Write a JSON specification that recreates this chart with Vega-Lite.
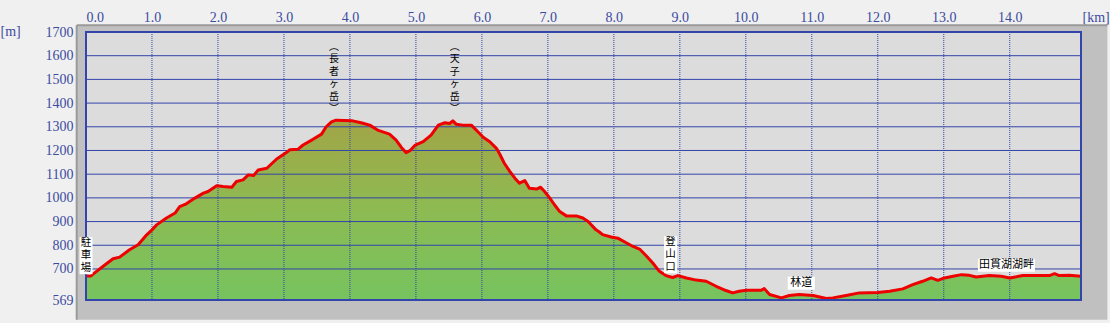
{
  "$schema": "https://vega.github.io/schema/vega-lite/v6.json",
  "width": 995,
  "height": 268,
  "autosize": {"type": "none"},
  "padding": {"left": 86, "top": 32, "right": 29, "bottom": 23},
  "background": "#f0f0f0",
  "resolve": {"axis": {"x": "independent", "y": "independent"}},
  "config": {
    "view": {"stroke": null},
    "axis": {
      "domain": false, "ticks": false, "grid": false, "labelOverlap": false,
      "labelFont": "Liberation Serif", "labelFontSize": 14, "labelColor": "#3b4b9f",
      "titleFont": "Liberation Serif", "titleFontSize": 14, "titleFontWeight": "normal", "titleColor": "#3b4b9f"
    }
  },
  "datasets": {
    "one": [{}],
    "profile": [
      {"km": 0.00, "m": 670}, {"km": 0.07, "m": 670}, {"km": 0.16, "m": 690}, {"km": 0.29, "m": 718},
      {"km": 0.41, "m": 743}, {"km": 0.51, "m": 750}, {"km": 0.66, "m": 781}, {"km": 0.79, "m": 802},
      {"km": 0.92, "m": 844}, {"km": 1.00, "m": 865}, {"km": 1.07, "m": 886}, {"km": 1.22, "m": 915},
      {"km": 1.35, "m": 936}, {"km": 1.42, "m": 963}, {"km": 1.52, "m": 975}, {"km": 1.65, "m": 999},
      {"km": 1.78, "m": 1020}, {"km": 1.85, "m": 1027}, {"km": 1.98, "m": 1051}, {"km": 2.08, "m": 1048},
      {"km": 2.21, "m": 1045}, {"km": 2.28, "m": 1069}, {"km": 2.38, "m": 1076}, {"km": 2.46, "m": 1097},
      {"km": 2.54, "m": 1094}, {"km": 2.61, "m": 1118}, {"km": 2.74, "m": 1125}, {"km": 2.89, "m": 1164},
      {"km": 3.02, "m": 1188}, {"km": 3.09, "m": 1203}, {"km": 3.21, "m": 1205}, {"km": 3.29, "m": 1223},
      {"km": 3.44, "m": 1247}, {"km": 3.57, "m": 1269}, {"km": 3.64, "m": 1300}, {"km": 3.72, "m": 1321},
      {"km": 3.79, "m": 1328}, {"km": 4.04, "m": 1325}, {"km": 4.17, "m": 1317}, {"km": 4.30, "m": 1307},
      {"km": 4.42, "m": 1286}, {"km": 4.60, "m": 1269}, {"km": 4.70, "m": 1244}, {"km": 4.78, "m": 1213},
      {"km": 4.85, "m": 1191}, {"km": 4.91, "m": 1199}, {"km": 4.99, "m": 1223}, {"km": 5.11, "m": 1237},
      {"km": 5.23, "m": 1265}, {"km": 5.34, "m": 1307}, {"km": 5.44, "m": 1317}, {"km": 5.51, "m": 1314},
      {"km": 5.56, "m": 1325}, {"km": 5.61, "m": 1311}, {"km": 5.71, "m": 1307}, {"km": 5.84, "m": 1307},
      {"km": 5.94, "m": 1279}, {"km": 6.02, "m": 1256}, {"km": 6.12, "m": 1237}, {"km": 6.22, "m": 1209},
      {"km": 6.27, "m": 1185}, {"km": 6.34, "m": 1146}, {"km": 6.42, "m": 1113}, {"km": 6.50, "m": 1083},
      {"km": 6.57, "m": 1062}, {"km": 6.65, "m": 1073}, {"km": 6.72, "m": 1041}, {"km": 6.83, "m": 1037},
      {"km": 6.89, "m": 1045}, {"km": 6.95, "m": 1027}, {"km": 7.03, "m": 999}, {"km": 7.10, "m": 971},
      {"km": 7.18, "m": 942}, {"km": 7.28, "m": 924}, {"km": 7.43, "m": 924}, {"km": 7.53, "m": 915},
      {"km": 7.61, "m": 900}, {"km": 7.73, "m": 865}, {"km": 7.78, "m": 856}, {"km": 7.83, "m": 845},
      {"km": 7.96, "m": 835}, {"km": 8.06, "m": 830}, {"km": 8.16, "m": 815}, {"km": 8.29, "m": 795},
      {"km": 8.39, "m": 784}, {"km": 8.49, "m": 756}, {"km": 8.59, "m": 725}, {"km": 8.69, "m": 690},
      {"km": 8.79, "m": 672}, {"km": 8.89, "m": 664}, {"km": 8.97, "m": 672}, {"km": 9.10, "m": 662},
      {"km": 9.25, "m": 653}, {"km": 9.40, "m": 648}, {"km": 9.55, "m": 627}, {"km": 9.70, "m": 609},
      {"km": 9.80, "m": 599}, {"km": 9.90, "m": 606}, {"km": 10.01, "m": 610}, {"km": 10.23, "m": 610},
      {"km": 10.28, "m": 617}, {"km": 10.36, "m": 592}, {"km": 10.54, "m": 578}, {"km": 10.66, "m": 588},
      {"km": 10.81, "m": 592}, {"km": 11.02, "m": 588}, {"km": 11.22, "m": 575}, {"km": 11.32, "m": 578},
      {"km": 11.52, "m": 588}, {"km": 11.72, "m": 599}, {"km": 12.00, "m": 601}, {"km": 12.18, "m": 606},
      {"km": 12.38, "m": 616}, {"km": 12.53, "m": 634}, {"km": 12.68, "m": 648}, {"km": 12.81, "m": 662},
      {"km": 12.91, "m": 652}, {"km": 13.01, "m": 662}, {"km": 13.14, "m": 669}, {"km": 13.27, "m": 676},
      {"km": 13.39, "m": 673}, {"km": 13.49, "m": 666}, {"km": 13.69, "m": 672}, {"km": 13.87, "m": 669},
      {"km": 14.00, "m": 662}, {"km": 14.20, "m": 672}, {"km": 14.40, "m": 672}, {"km": 14.60, "m": 672},
      {"km": 14.68, "m": 680}, {"km": 14.75, "m": 672}, {"km": 14.90, "m": 673}, {"km": 15.08, "m": 669}
    ],
    "xgrid": [{"km": 1}, {"km": 2}, {"km": 3}, {"km": 4}, {"km": 5}, {"km": 6}, {"km": 7}, {"km": 8}, {"km": 9}, {"km": 10}, {"km": 11}, {"km": 12}, {"km": 13}, {"km": 14}],
    "ygrid": [{"m": 700}, {"m": 800}, {"m": 900}, {"m": 1000}, {"m": 1100}, {"m": 1200}, {"m": 1300}, {"m": 1400}, {"m": 1500}, {"m": 1600}],
    "labels": [
      {"km": 0.0, "m": 832, "kind": "v", "label": "駐\n車\n場"},
      {"km": 8.86, "m": 836, "kind": "v", "label": "登\n山\n口"},
      {"km": 3.76, "m": 1658, "kind": "p", "label": "︵\n長\n者\nヶ\n岳\n︶"},
      {"km": 5.59, "m": 1658, "kind": "p", "label": "︵\n天\n子\nヶ\n岳\n︶"},
      {"km": 10.84, "m": 640, "kind": "h2", "label": "林道"},
      {"km": 13.95, "m": 716, "kind": "h5", "label": "田貫湖湖畔"}
    ]
  },
  "layer": [
    {
      "data": {"name": "one"},
      "mark": {"type": "rect", "fill": "#c0c0c0"},
      "encoding": {
        "x": {"datum": -0.141, "type": "quantitative", "axis": null, "scale": {"domain": [0, 15.08], "nice": false, "zero": false}},
        "x2": {"datum": 15.48},
        "y": {"datum": 1728, "type": "quantitative", "axis": null, "scale": {"domain": [569, 1700], "nice": false, "zero": false}},
        "y2": {"datum": 486}
      }
    },
    {
      "data": {"name": "one"},
      "mark": {"type": "rule", "color": "#9a9a9a", "strokeWidth": 2},
      "encoding": {
        "x": {"datum": -0.141, "type": "quantitative", "axis": null, "scale": {"domain": [0, 15.08], "nice": false, "zero": false}},
        "x2": {"datum": 15.48},
        "y": {"datum": 1728, "type": "quantitative", "axis": null, "scale": {"domain": [569, 1700], "nice": false, "zero": false}}
      }
    },
    {
      "data": {"name": "one"},
      "mark": {"type": "rule", "color": "#9a9a9a", "strokeWidth": 2},
      "encoding": {
        "x": {"datum": -0.141, "type": "quantitative", "axis": null, "scale": {"domain": [0, 15.08], "nice": false, "zero": false}},
        "y": {"datum": 1728, "type": "quantitative", "axis": null, "scale": {"domain": [569, 1700], "nice": false, "zero": false}},
        "y2": {"datum": 486}
      }
    },
    {
      "data": {"name": "one"},
      "mark": {"type": "rect", "fill": "#dcdcdc"},
      "encoding": {
        "x": {"datum": 0, "type": "quantitative", "axis": null, "scale": {"domain": [0, 15.08], "nice": false, "zero": false}},
        "x2": {"datum": 15.08},
        "y": {"datum": 1700, "type": "quantitative", "axis": null, "scale": {"domain": [569, 1700], "nice": false, "zero": false}},
        "y2": {"datum": 569}
      }
    },
    {
      "data": {"name": "profile"},
      "mark": {
        "type": "area",
        "fill": {"gradient": "linear", "x1": 0, "y1": 0, "x2": 0, "y2": 1,
          "stops": [{"offset": 0, "color": "#a2a547"}, {"offset": 0.5, "color": "#8dbb52"}, {"offset": 1, "color": "#76c35f"}]}
      },
      "encoding": {
        "x": {
          "field": "km", "type": "quantitative",
          "scale": {"domain": [0, 15.08], "nice": false, "zero": false},
          "axis": {
            "orient": "top", "values": [0, 1, 2, 3, 4, 5, 6, 7, 8, 9, 10, 11, 12, 13, 14], "format": ".1f",
            "labelPadding": 11, "labelBaseline": "alphabetic", "labelFlush": true, "labelOverlap": false,
            "title": "[km]", "titleX": 996, "titleY": -11, "titleAlign": "left", "titleBaseline": "alphabetic", "titleAngle": 0
          }
        },
        "y": {
          "field": "m", "type": "quantitative",
          "scale": {"domain": [569, 1700], "nice": false, "zero": false},
          "axis": {
            "orient": "left", "values": [569, 700, 800, 900, 1000, 1100, 1200, 1300, 1400, 1500, 1600, 1700], "format": "d",
            "labelPadding": 13, "labelFlush": false, "labelOverlap": false, "labelBaseline": "middle",
            "title": "[m]", "titleX": -86, "titleY": 3, "titleAlign": "left", "titleBaseline": "alphabetic", "titleAngle": 0
          }
        },
        "y2": {"datum": 569}
      }
    },
    {
      "data": {"name": "ygrid"},
      "mark": {"type": "rule", "color": "#3344aa", "strokeWidth": 1},
      "encoding": {
        "y": {"field": "m", "type": "quantitative", "axis": null, "scale": {"domain": [569, 1700], "nice": false, "zero": false}}
      }
    },
    {
      "data": {"name": "xgrid"},
      "mark": {"type": "rule", "color": "#3344aa", "strokeWidth": 1, "strokeDash": [1, 1]},
      "encoding": {
        "x": {"field": "km", "type": "quantitative", "axis": null, "scale": {"domain": [0, 15.08], "nice": false, "zero": false}}
      }
    },
    {
      "data": {"name": "profile"},
      "mark": {"type": "line", "color": "#ee0000", "strokeWidth": 3, "strokeJoin": "round"},
      "encoding": {
        "x": {"field": "km", "type": "quantitative", "axis": null, "scale": {"domain": [0, 15.08], "nice": false, "zero": false}},
        "y": {"field": "m", "type": "quantitative", "axis": null, "scale": {"domain": [569, 1700], "nice": false, "zero": false}}
      }
    },
    {
      "data": {"name": "one"},
      "mark": {"type": "rect", "fillOpacity": 0, "stroke": "#3344aa", "strokeWidth": 2},
      "encoding": {
        "x": {"datum": 0, "type": "quantitative", "axis": null, "scale": {"domain": [0, 15.08], "nice": false, "zero": false}},
        "x2": {"datum": 15.08},
        "y": {"datum": 1700, "type": "quantitative", "axis": null, "scale": {"domain": [569, 1700], "nice": false, "zero": false}},
        "y2": {"datum": 569}
      }
    },
    {
      "data": {"name": "labels"},
      "transform": [{"filter": "datum.kind === 'v'"}],
      "mark": {"type": "rect", "fill": "#ffffff", "width": 13, "height": 37, "yOffset": 18},
      "encoding": {
        "x": {"field": "km", "type": "quantitative", "axis": null, "scale": {"domain": [0, 15.08], "nice": false, "zero": false}},
        "y": {"field": "m", "type": "quantitative", "axis": null, "scale": {"domain": [569, 1700], "nice": false, "zero": false}}
      }
    },
    {
      "data": {"name": "labels"},
      "transform": [{"filter": "datum.kind === 'h2'"}],
      "mark": {"type": "rect", "fill": "#ffffff", "width": 27, "height": 13},
      "encoding": {
        "x": {"field": "km", "type": "quantitative", "axis": null, "scale": {"domain": [0, 15.08], "nice": false, "zero": false}},
        "y": {"field": "m", "type": "quantitative", "axis": null, "scale": {"domain": [569, 1700], "nice": false, "zero": false}}
      }
    },
    {
      "data": {"name": "labels"},
      "transform": [{"filter": "datum.kind === 'h5'"}],
      "mark": {"type": "rect", "fill": "#ffffff", "width": 57, "height": 13},
      "encoding": {
        "x": {"field": "km", "type": "quantitative", "axis": null, "scale": {"domain": [0, 15.08], "nice": false, "zero": false}},
        "y": {"field": "m", "type": "quantitative", "axis": null, "scale": {"domain": [569, 1700], "nice": false, "zero": false}}
      }
    },
    {
      "data": {"name": "labels"},
      "transform": [{"filter": "datum.kind === 'v'"}],
      "mark": {"type": "text", "font": "Noto Sans CJK JP", "fontSize": 10.5, "lineHeight": 12.5, "lineBreak": "\n", "align": "center", "baseline": "top", "color": "#000000"},
      "encoding": {
        "x": {"field": "km", "type": "quantitative", "axis": null, "scale": {"domain": [0, 15.08], "nice": false, "zero": false}},
        "y": {"field": "m", "type": "quantitative", "axis": null, "scale": {"domain": [569, 1700], "nice": false, "zero": false}},
        "text": {"field": "label", "type": "nominal"}
      }
    },
    {
      "data": {"name": "labels"},
      "transform": [{"filter": "datum.kind === 'p'"}],
      "mark": {"type": "text", "font": "Noto Sans CJK JP", "fontSize": 10, "lineHeight": 12.5, "lineBreak": "\n", "align": "center", "baseline": "top", "color": "#000000"},
      "encoding": {
        "x": {"field": "km", "type": "quantitative", "axis": null, "scale": {"domain": [0, 15.08], "nice": false, "zero": false}},
        "y": {"field": "m", "type": "quantitative", "axis": null, "scale": {"domain": [569, 1700], "nice": false, "zero": false}},
        "text": {"field": "label", "type": "nominal"}
      }
    },
    {
      "data": {"name": "labels"},
      "transform": [{"filter": "datum.kind === 'h2' || datum.kind === 'h5'"}],
      "mark": {"type": "text", "font": "Noto Sans CJK JP", "fontSize": 11, "align": "center", "baseline": "middle", "color": "#000000"},
      "encoding": {
        "x": {"field": "km", "type": "quantitative", "axis": null, "scale": {"domain": [0, 15.08], "nice": false, "zero": false}},
        "y": {"field": "m", "type": "quantitative", "axis": null, "scale": {"domain": [569, 1700], "nice": false, "zero": false}},
        "text": {"field": "label", "type": "nominal"}
      }
    }
  ]
}
